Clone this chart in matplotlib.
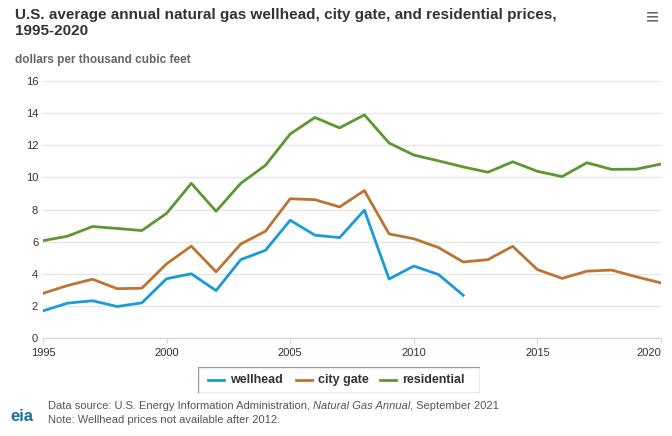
import matplotlib
matplotlib.use("Agg")
import matplotlib.pyplot as plt

years = list(range(1995, 2021))
wellhead = [1.69,2.17,2.32,1.96,2.19,3.69,4.00,2.95,4.88,5.46,7.33,6.40,6.25,7.96,3.67,4.48,3.95,2.66]
city_gate = [2.78,3.27,3.66,3.07,3.10,4.62,5.72,4.12,5.85,6.65,8.67,8.61,8.16,9.18,6.48,6.18,5.63,4.73,4.88,5.71,4.26,3.71,4.16,4.23,3.81,3.43]
residential = [6.06,6.34,6.94,6.82,6.69,7.76,9.63,7.89,9.63,10.75,12.70,13.73,13.08,13.89,12.14,11.39,11.03,10.65,10.32,10.97,10.38,10.05,10.91,10.50,10.51,10.83]
xticks = [1995, 2000, 2005, 2010, 2015, 2020]

plt.rcParams['font.family'] = ['Liberation Sans', 'DejaVu Sans']
fig = plt.figure(figsize=(6.72, 4.36), dpi=100)
ax = fig.add_axes([43/672, 1-338/436, 618/672, 257/436])
c_w, c_c, c_r = '#1a9bd7', '#bd7332', '#5d9732'
ax.plot(years[:len(wellhead)], wellhead, color=c_w, lw=2)
ax.plot(years, city_gate, color=c_c, lw=2)
ax.plot(years, residential, color=c_r, lw=2)
ax.set_xlim(1995, 2020)
ax.set_ylim(0, 16)
ax.set_yticks(range(0, 17, 2))
ax.set_xticks(xticks)
ax.grid(axis='y', color='#e6e6e6', lw=1)
ax.set_axisbelow(True)
for s in ['top', 'right', 'left']:
    ax.spines[s].set_visible(False)
ax.spines['bottom'].set_color('#ccd6eb')
ax.tick_params(axis='y', length=0, labelsize=8, colors='#333333')
ax.tick_params(axis='x', labelsize=8, colors='#333333', color='#ccd6eb')
ax.get_xticklabels()[-1].set_horizontalalignment('right')

fig.text(15/672, 1-23/436, "U.S. average annual natural gas wellhead, city gate, and residential prices,\n1995-2020",
         fontsize=11, fontweight='bold', color='#333333', va='center', linespacing=1.15)
fig.text(15/672, 1-60/436, "dollars per thousand cubic feet", fontsize=8.5, fontweight='bold', color='#666666', va='center')
fig.text(652/672, 1-18/436, "≡", fontsize=16, color='#666666', ha='center', va='center')

lax = fig.add_axes([198/672, 1-393/436, 282/672, 26/436])
lax.set_xlim(0, 282); lax.set_ylim(0, 26)
lax.axis('off')
lax.add_patch(plt.Rectangle((0, 0), 282, 26, fill=False, ec='#999999', lw=1))
for x, c, t in [(10, c_w, 'wellhead'), (98, c_c, 'city gate'), (182, c_r, 'residential')]:
    lax.plot([x, x+16], [13, 13], color=c, lw=2)
    lax.text(x+22, 13, t, fontsize=9, fontweight='bold', color='#333333', va='center')

fig.text(10/672, 1-416/436, "eia", fontsize=12, color='#1a6fa0', fontweight='bold', va='center')
t1 = fig.text(48/672, 1-409/436, "Data source: U.S. Energy Information Administration, ", fontsize=8, color='#555555', va='baseline')
t2 = fig.text(0, 0, "Natural Gas Annual", fontsize=8, color='#555555', style='italic', va='baseline',
              transform=matplotlib.transforms.offset_copy(fig.transFigure, fig=fig))
fig.canvas.draw()
r = fig.canvas.get_renderer()
b1 = t1.get_window_extent(r)
t2.set_position((b1.x1/fig.bbox.width, 1-409/436))
b2 = t2.get_window_extent(r)
fig.text(b2.x1/fig.bbox.width, 1-409/436, ", September 2021", fontsize=8, color='#555555', va='baseline')
fig.text(48/672, 1-423/436, "Note: Wellhead prices not available after 2012.", fontsize=8, color='#555555', va='baseline')
fig.savefig("out.png", dpi=100)
